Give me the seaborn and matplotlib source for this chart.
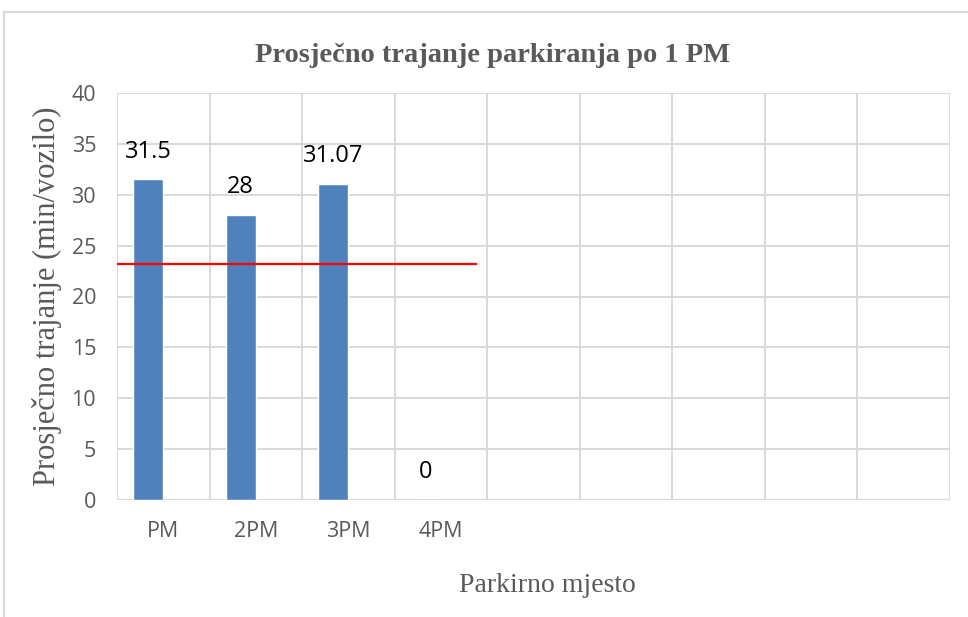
#!/usr/bin/env python3
"""Prosječno trajanje parkiranja po 1 PM - bar chart with reference line."""
import numpy as np
import pandas as pd
import matplotlib
matplotlib.use("Agg")
import matplotlib.pyplot as plt
from matplotlib.patches import Rectangle
from matplotlib.ticker import MultipleLocator, FixedLocator
import seaborn as sns

# data
categories = ["PM", "2PM", "3PM", "4PM", "c5", "c6", "c7", "c8", "c9"]
tick_labels = ["PM", "2PM", "3PM", "4PM", "", "", "", "", ""]
durations = [31.5, 28, 31.07, 0, np.nan, np.nan, np.nan, np.nan, np.nan]
value_labels = ["31.5", "28", "31.07", "0"]
series = ["Trajanje", "Prazno"]
reference_value = 23.2

BAR_COLOR = "#4F81BD"
GRID = "#D9D9D9"
TXT = "#595959"

sns.set_theme(style="white")
plt.rcParams["font.family"] = ["Open Sans", "DejaVu Sans"]

df = pd.DataFrame({
    "mjesto": categories * 2,
    "serija": [series[0]] * len(categories) + [series[1]] * len(categories),
    "trajanje": durations + [np.nan] * len(categories),
})

fig = plt.figure(figsize=(9.68, 6.17), dpi=100)
ax = fig.add_axes([117 / 968, 1 - 500 / 617, (950 - 117) / 968, (500 - 93) / 617])

sns.barplot(data=df, x="mjesto", y="trajanje", hue="serija", order=categories,
            hue_order=series, palette=[BAR_COLOR, BAR_COLOR], width=0.65,
            saturation=1, legend=False, ax=ax, zorder=3)

ax.set_ylim(0, 40)
ax.set_xlim(-0.5, len(categories) - 0.5)
ax.yaxis.set_major_locator(MultipleLocator(5))
ax.xaxis.set_minor_locator(FixedLocator(np.arange(-0.5, len(categories), 1)))
ax.set_xticks(range(len(categories)))
ax.set_xticklabels(tick_labels)
ax.grid(axis="y", which="major", color=GRID, lw=1.4, zorder=0)
ax.grid(axis="x", which="minor", color=GRID, lw=1.4, zorder=0)
ax.grid(axis="x", which="major", visible=False)
ax.tick_params(axis="both", which="both", length=0, colors=TXT, labelsize=15.5)
ax.tick_params(axis="x", pad=15)
ax.tick_params(axis="y", pad=15)
for s in ax.spines.values():
    s.set_visible(False)
ax.axhline(0, color=GRID, lw=1.6, zorder=2)

# value labels above bars
bars = ax.containers[0]
for rect, txt in zip(bars, value_labels):
    x = rect.get_x() + rect.get_width() / 2
    ax.annotate(txt, (x, rect.get_height()), xytext=(0, 20), textcoords="offset points",
                ha="center", va="center", fontsize=17, color="black", zorder=5)

# reference line
ax.hlines(reference_value, -0.5, 3.39, color="#FF0000", lw=1.6, zorder=4)

ax.set_xlabel("Parkirno mjesto", family="Liberation Serif", fontsize=20, color=TXT)
ax.xaxis.set_label_coords(0.517, -0.209)
ax.xaxis.label.set_va("center")
ax.set_ylabel("Prosječno trajanje (min/vozilo)", family="Liberation Serif", fontsize=22,
              color=TXT)
ax.yaxis.set_label_coords(-0.084, 0.5)
ax.yaxis.label.set_va("center")
fig.text(493 / 968, 1 - 56 / 617, "Prosječno trajanje parkiranja po 1 PM",
         family="Liberation Serif", weight="bold", fontsize=20.5, color=TXT,
         ha="center", va="center")

# outer chart frame
fig.patches.append(Rectangle((4 / 968, -0.05), 1.2, 1 - 12 / 617 + 0.05, transform=fig.transFigure,
                             fill=False, edgecolor=GRID, lw=1.5))

fig.savefig("out.png", dpi=100)
